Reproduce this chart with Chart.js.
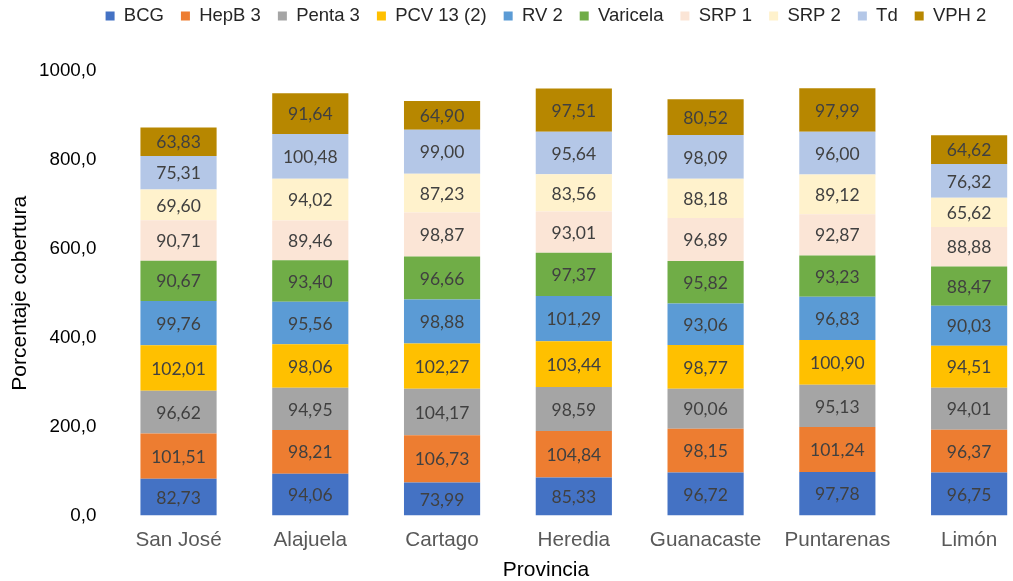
<!DOCTYPE html>
<html>
<head>
<meta charset="utf-8">
<script src="https://cdn.jsdelivr.net/npm/chart.js@4/dist/chart.umd.min.js"></script>
<style>
  html, body { margin: 0; padding: 0; overflow: hidden; background: #ffffff; }
  #wrap { width: 1035px; height: 581px; position: relative; }
</style>
</head>
<body>
<div id="wrap"><canvas id="chart"></canvas></div>
<script>
// Cobertura de vacunación por provincia (porcentaje, apilado por vacuna)
const provincias = ['San José', 'Alajuela', 'Cartago', 'Heredia', 'Guanacaste', 'Puntarenas', 'Limón'];

const bcg      = [82.73, 94.06, 73.99, 85.33, 96.72, 97.78, 96.75];
const hepB3    = [101.51, 98.21, 106.73, 104.84, 98.15, 101.24, 96.37];
const penta3   = [96.62, 94.95, 104.17, 98.59, 90.06, 95.13, 94.01];
const pcv13    = [102.01, 98.06, 102.27, 103.44, 98.77, 100.90, 94.51];
const rv2      = [99.76, 95.56, 98.88, 101.29, 93.06, 96.83, 90.03];
const varicela = [90.67, 93.40, 96.66, 97.37, 95.82, 93.23, 88.47];
const srp1     = [90.71, 89.46, 98.87, 93.01, 96.89, 92.87, 88.88];
const srp2     = [69.60, 94.02, 87.23, 83.56, 88.18, 89.12, 65.62];
const td       = [75.31, 100.48, 99.00, 95.64, 98.09, 96.00, 76.32];
const vph2     = [63.83, 91.64, 64.90, 97.51, 80.52, 97.99, 64.62];

const vacunas  = ['BCG', 'HepB 3', 'Penta 3', 'PCV 13 (2)', 'RV 2', 'Varicela', 'SRP 1', 'SRP 2', 'Td', 'VPH 2'];
const series   = [bcg, hepB3, penta3, pcv13, rv2, varicela, srp1, srp2, td, vph2];
const colores  = ['#4472C4', '#ED7D31', '#A5A5A5', '#FFC000', '#5B9BD5', '#70AD47', '#FBE5D6', '#FFF2CC', '#B4C7E7', '#B78700'];

const yTicks = [0, 200, 400, 600, 800, 1000];

const fmt = (v, d) => v.toFixed(d).replace('.', ',');

Chart.defaults.font.family = "'Liberation Sans', Arial, sans-serif";

// Value labels centred inside every stacked segment
const segmentLabels = {
  id: 'segmentLabels',
  afterDatasetsDraw(chart) {
    const ctx = chart.ctx;
    ctx.save();
    ctx.font = "17.5px Lato, 'Open Sans', sans-serif";
    ctx.fillStyle = '#404040';
    ctx.textAlign = 'center';
    ctx.textBaseline = 'middle';
    chart.data.datasets.forEach((ds, i) => {
      const meta = chart.getDatasetMeta(i);
      if (meta.hidden) return;
      meta.data.forEach((bar, j) => {
        const p = bar.getProps(['x', 'y', 'base'], true);
        ctx.fillText(fmt(ds.data[j], 2), p.x, (p.y + p.base) / 2 + 1);
      });
    });
    ctx.restore();
  }
};

// Centre the legend and the bottom title on the figure, legend at the top edge
const blockPlacement = {
  id: 'blockPlacement',
  afterLayout(chart) {
    const centreX = 546;
    const lg = chart.legend;
    if (lg) {
      const dx = centreX - (lg.left + lg.right) / 2;
      const pad = lg.options.labels.padding;
      const fs = lg.options.labels.font.size;
      const dy = 16 - (lg.top + pad + fs / 2);
      lg.left += dx; lg.right += dx;
      lg.top += dy; lg.bottom += dy;
    }
    const tb = chart.titleBlock;
    if (tb) {
      const dx = centreX - (tb.left + tb.right) / 2;
      tb.left += dx; tb.right += dx;
    }
  }
};

new Chart(document.getElementById('chart'), {
  type: 'bar',
  data: {
    labels: provincias,
    datasets: series.map((data, i) => ({
      label: vacunas[i],
      data: data,
      backgroundColor: colores[i],
      borderWidth: 0,
      barPercentage: 0.578,
      categoryPercentage: 1
    }))
  },
  options: {
    responsive: true,
    maintainAspectRatio: false,
    animation: false,
    layout: { padding: { top: 25.5, left: 7.4, right: 0, bottom: 0 } },
    plugins: {
      legend: {
        position: 'top',
        labels: {
          boxWidth: 9,
          boxHeight: 9,
          padding: 17,
          color: '#262626',
          font: { size: 18.5 }
        }
      },
      title: {
        display: true,
        position: 'bottom',
        text: 'Provincia',
        color: '#000000',
        font: { size: 21, weight: 'normal', lineHeight: 1 },
        padding: { top: -4.3, bottom: 0 }
      },
      tooltip: { enabled: false }
    },
    scales: {
      x: {
        stacked: true,
        grid: { display: false, drawTicks: false },
        border: { display: false },
        ticks: {
          color: '#595959',
          font: { size: 20.7 },
          padding: 12,
          maxRotation: 0,
          autoSkip: false
        }
      },
      y: {
        stacked: true,
        min: 0,
        max: 1000,
        grid: { display: false, drawTicks: false },
        border: { display: false },
        afterBuildTicks(scale) { scale.ticks = yTicks.map(v => ({ value: v })); },
        ticks: {
          color: '#000000',
          font: { size: 18.8 },
          padding: 16.2,
          callback: (v) => fmt(v, 1)
        },
        title: {
          display: true,
          text: 'Porcentaje cobertura',
          color: '#000000',
          font: { size: 21 },
          padding: { top: 0, bottom: -9.8 }
        }
      }
    }
  },
  plugins: [segmentLabels, blockPlacement]
});
</script>
</body>
</html>
